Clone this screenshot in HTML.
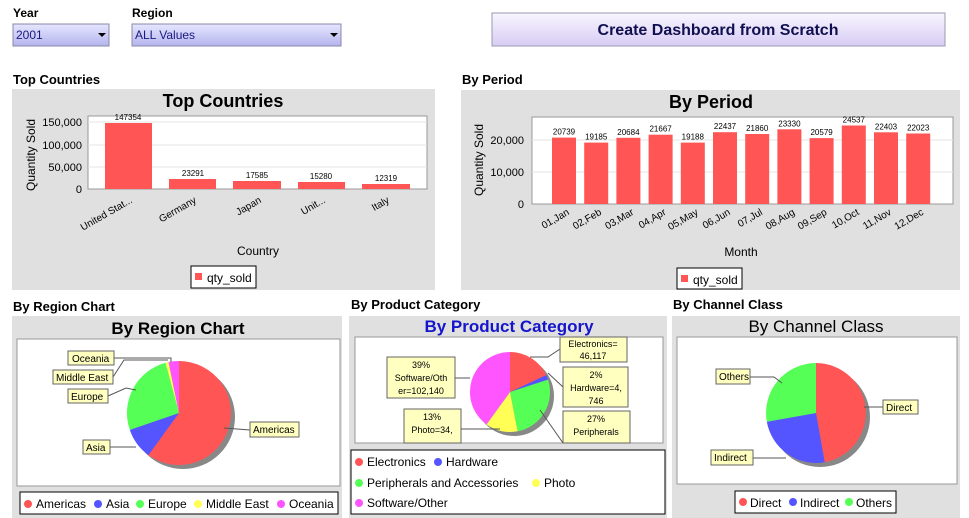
<!DOCTYPE html>
<html><head><meta charset="utf-8"><style>
body{margin:0;background:#fff;}
svg{display:block;font-family:"Liberation Sans",Arial,sans-serif;}
</style></head><body>
<svg width="969" height="518" viewBox="0 0 969 518" xmlns="http://www.w3.org/2000/svg">
<defs>
<linearGradient id="dd" x1="0" y1="0" x2="0" y2="1"><stop offset="0" stop-color="#e6e6ff"/><stop offset="1" stop-color="#b4b4ee"/></linearGradient>
<linearGradient id="bt" x1="0" y1="0" x2="0" y2="1"><stop offset="0" stop-color="#f8f6ff"/><stop offset="1" stop-color="#d8ccf4"/></linearGradient>
</defs>
<!-- top controls -->
<text x="13" y="17" font-size="12" font-weight="bold">Year</text>
<rect x="13" y="24" width="96" height="22" fill="url(#dd)" stroke="#8888aa"/>
<text x="16" y="39" font-size="12" fill="#1a1a80">2001</text>
<path d="M98 33 L106 33 L102 37 Z" fill="#000"/>
<text x="132" y="17" font-size="12" font-weight="bold">Region</text>
<rect x="132" y="24" width="209" height="22" fill="url(#dd)" stroke="#8888aa"/>
<text x="135" y="39" font-size="12" fill="#1a1a80">ALL Values</text>
<path d="M330 33 L338 33 L334 37 Z" fill="#000"/>
<rect x="492" y="13" width="453" height="33" fill="url(#bt)" stroke="#9a9ab0"/>
<text x="718" y="35" font-size="16" font-weight="bold" fill="#101050" text-anchor="middle">Create Dashboard from Scratch</text>

<!-- Top Countries -->
<text x="13" y="84" font-size="13" font-weight="bold">Top Countries</text>
<rect x="12" y="89" width="423" height="201" fill="#e0e0e0"/>
<text x="223" y="107" font-size="18" font-weight="bold" text-anchor="middle">Top Countries</text>
<rect x="88" y="116" width="339" height="73" fill="#fff" stroke="#999"/>
<g stroke="#e4e4e4"><line x1="88" y1="167" x2="427" y2="167"/><line x1="88" y1="145" x2="427" y2="145"/><line x1="88" y1="122" x2="427" y2="122"/></g>
<g font-size="11" text-anchor="end"><text x="82" y="193">0</text><text x="82" y="171">50,000</text><text x="82" y="149">100,000</text><text x="82" y="126">150,000</text></g>
<text transform="translate(35,155) rotate(-90)" font-size="12" text-anchor="middle">Quantity Sold</text>
<g fill="#ff5555"><rect x="105" y="123" width="47" height="66"/><rect x="169" y="179" width="47" height="10"/><rect x="233" y="181" width="48" height="8"/><rect x="298" y="182" width="47" height="7"/><rect x="362" y="184" width="48" height="5"/></g>
<g font-size="8" text-anchor="middle"><text x="128" y="120">147354</text><text x="193" y="176">23291</text><text x="257" y="178">17585</text><text x="321" y="179">15280</text><text x="386" y="181">12319</text></g>
<g font-size="10" text-anchor="end"><text transform="translate(133,202) rotate(-30)">United Stat...</text><text transform="translate(197,202) rotate(-30)">Germany</text><text transform="translate(262,202) rotate(-30)">Japan</text><text transform="translate(326,202) rotate(-30)">Unit...</text><text transform="translate(390,202) rotate(-30)">Italy</text></g>
<text x="258" y="255" font-size="12" text-anchor="middle">Country</text>
<rect x="191" y="266" width="65" height="22" fill="#fff" stroke="#000"/>
<rect x="195" y="273" width="7" height="7" fill="#ff5555"/>
<text x="207" y="282" font-size="12">qty_sold</text>

<!-- By Period -->
<text x="462" y="84" font-size="13" font-weight="bold">By Period</text>
<rect x="461" y="90" width="499" height="200" fill="#e0e0e0"/>
<text x="711" y="108" font-size="18" font-weight="bold" text-anchor="middle">By Period</text>
<rect x="532" y="117" width="421" height="87" fill="#fff" stroke="#999"/>
<g stroke="#e4e4e4"><line x1="532" y1="172" x2="953" y2="172"/><line x1="532" y1="140" x2="953" y2="140"/></g>
<g font-size="11" text-anchor="end"><text x="524" y="208">0</text><text x="524" y="176">10,000</text><text x="524" y="144">20,000</text></g>
<text transform="translate(483,160) rotate(-90)" font-size="12" text-anchor="middle">Quantity Sold</text>
<g fill="#ff5555">
<rect x="552" y="137.6" width="24" height="66.4"/><rect x="584.2" y="142.6" width="24" height="61.4"/><rect x="616.4" y="137.8" width="24" height="66.2"/><rect x="648.6" y="134.7" width="24" height="69.3"/><rect x="680.8" y="142.6" width="24" height="61.4"/><rect x="713" y="132.2" width="24" height="71.8"/><rect x="745.2" y="134" width="24" height="70"/><rect x="777.4" y="129.3" width="24" height="74.7"/><rect x="809.6" y="138.1" width="24" height="65.9"/><rect x="841.8" y="125.5" width="24" height="78.5"/><rect x="874" y="132.3" width="24" height="71.7"/><rect x="906.2" y="133.5" width="24" height="70.5"/></g>
<g font-size="8" text-anchor="middle"><text x="564" y="134.6">20739</text><text x="596.2" y="139.6">19185</text><text x="628.4" y="134.8">20684</text><text x="660.6" y="131.7">21667</text><text x="692.8" y="139.6">19188</text><text x="725" y="129.2">22437</text><text x="757.2" y="131">21860</text><text x="789.4" y="126.3">23330</text><text x="821.6" y="135.1">20579</text><text x="853.8" y="122.5">24537</text><text x="886" y="129.3">22403</text><text x="918.2" y="130.5">22023</text></g>
<g font-size="10" text-anchor="end">
<text transform="translate(570,214) rotate(-30)">01,Jan</text><text transform="translate(602.2,214) rotate(-30)">02,Feb</text><text transform="translate(634.4,214) rotate(-30)">03,Mar</text><text transform="translate(666.6,214) rotate(-30)">04,Apr</text><text transform="translate(698.8,214) rotate(-30)">05,May</text><text transform="translate(731,214) rotate(-30)">06,Jun</text><text transform="translate(763.2,214) rotate(-30)">07,Jul</text><text transform="translate(795.4,214) rotate(-30)">08,Aug</text><text transform="translate(827.6,214) rotate(-30)">09,Sep</text><text transform="translate(859.8,214) rotate(-30)">10,Oct</text><text transform="translate(892,214) rotate(-30)">11,Nov</text><text transform="translate(924.2,214) rotate(-30)">12,Dec</text></g>
<text x="741" y="256" font-size="12" text-anchor="middle">Month</text>
<rect x="677" y="268" width="65" height="21" fill="#fff" stroke="#000"/>
<rect x="681" y="275" width="7" height="7" fill="#ff5555"/>
<text x="693" y="284" font-size="12">qty_sold</text>

<!-- By Region -->
<text x="13" y="311" font-size="13" font-weight="bold">By Region Chart</text>
<rect x="12" y="316" width="330" height="202" fill="#e0e0e0"/>
<text x="178" y="334" font-size="17" font-weight="bold" text-anchor="middle">By Region Chart</text>
<rect x="17" y="339" width="323" height="147" fill="#fff" stroke="#999"/>
<circle cx="183" cy="417" r="52" fill="#888"/>
<path d="M179 413 L179 361 A52 52 0 1 1 148.4 455.1 Z" fill="#ff5555"/>
<path d="M179 413 L148.4 455.1 A52 52 0 0 1 129.8 429.9 Z" fill="#5555ff"/>
<path d="M179 413 L129.8 429.9 A52 52 0 0 1 165.5 362.8 Z" fill="#55ff55"/>
<path d="M179 413 L165.5 362.8 A52 52 0 0 1 168.5 362 Z" fill="#ffff55"/>
<path d="M179 413 L168.5 362 A52 52 0 0 1 179 361 Z" fill="#ff55ff"/>
<g stroke="#555" fill="none"><path d="M114 358 L124 358 L171 358 L171 362"/><path d="M113 377 L124 360 L168 360"/><path d="M108 396 L126 388 L136 390"/><path d="M110 447 L136 447"/><path d="M250 430 L224 428"/></g>
<g font-size="10" fill="#000"><rect x="68" y="351" width="46" height="14" fill="#ffffc0" stroke="#666"/><text x="72" y="362">Oceania</text>
<rect x="53" y="370" width="60" height="14" fill="#ffffc0" stroke="#666"/><text x="56" y="381">Middle East</text>
<rect x="68" y="389" width="40" height="14" fill="#ffffc0" stroke="#666"/><text x="71" y="400">Europe</text>
<rect x="83" y="440" width="27" height="14" fill="#ffffc0" stroke="#666"/><text x="86" y="451">Asia</text>
<rect x="250" y="422" width="49" height="15" fill="#ffffc0" stroke="#666"/><text x="253" y="433">Americas</text></g>
<rect x="20" y="492" width="318" height="22" fill="#fff" stroke="#000"/>
<g font-size="12"><circle cx="28" cy="504" r="4" fill="#ff5555"/><text x="36" y="508">Americas</text><circle cx="98" cy="504" r="4" fill="#5555ff"/><text x="106" y="508">Asia</text><circle cx="140" cy="504" r="4" fill="#55ff55"/><text x="148" y="508">Europe</text><circle cx="198" cy="504" r="4" fill="#ffff55"/><text x="206" y="508">Middle East</text><circle cx="281" cy="504" r="4" fill="#ff55ff"/><text x="289" y="508">Oceania</text></g>

<!-- By Product Category -->
<text x="351" y="309" font-size="13" font-weight="bold">By Product Category</text>
<rect x="349" y="316" width="318" height="202" fill="#e0e0e0"/>
<text x="509" y="332" font-size="17" font-weight="bold" fill="#1515cc" text-anchor="middle">By Product Category</text>
<rect x="355" y="337" width="308" height="106" fill="#fff" stroke="#999"/>
<circle cx="514" cy="396" r="40" fill="#888"/>
<path d="M510 392 L510 352 A40 40 0 0 1 546.3 375.1 Z" fill="#ff5555"/>
<path d="M510 392 L546.3 375.1 A40 40 0 0 1 548 379.6 Z" fill="#5555ff"/>
<path d="M510 392 L548 379.6 A40 40 0 0 1 517.6 431.3 Z" fill="#55ff55"/>
<path d="M510 392 L517.6 431.3 A40 40 0 0 1 486.5 424.4 Z" fill="#ffff55"/>
<path d="M510 392 L486.5 424.4 A40 40 0 0 1 510 352 Z" fill="#ff55ff"/>
<g stroke="#555" fill="none"><path d="M530 357 L548 357 L560 349"/><path d="M548 373 L563 387"/><path d="M540 410 L563 443"/><path d="M455 378 L470 378"/><path d="M461 429 L500 429"/></g>
<g font-size="9" text-anchor="middle">
<rect x="560" y="337" width="67" height="25" fill="#ffffc0" stroke="#666"/><text x="593" y="347">Electronics=</text><text x="593" y="359">46,117</text>
<rect x="563" y="367" width="65" height="40" fill="#ffffc0" stroke="#666"/><text x="596" y="378">2%</text><text x="596" y="391">Hardware=4,</text><text x="596" y="404">746</text>
<rect x="563" y="411" width="67" height="32" fill="#ffffc0" stroke="#666"/><text x="596" y="422">27%</text><text x="596" y="435">Peripherals</text>
<rect x="387" y="357" width="68" height="41" fill="#ffffc0" stroke="#666"/><text x="421" y="368">39%</text><text x="421" y="381">Software/Oth</text><text x="421" y="394">er=102,140</text>
<rect x="404" y="409" width="57" height="34" fill="#ffffc0" stroke="#666"/><text x="432" y="420">13%</text><text x="432" y="433">Photo=34,</text></g>
<rect x="351" y="450" width="314" height="64" fill="#fff" stroke="#000"/>
<g font-size="12"><circle cx="359" cy="462" r="4" fill="#ff5555"/><text x="367" y="466">Electronics</text><circle cx="438" cy="462" r="4" fill="#5555ff"/><text x="446" y="466">Hardware</text>
<circle cx="359" cy="483" r="4" fill="#55ff55"/><text x="367" y="487">Peripherals and Accessories</text><circle cx="536" cy="483" r="4" fill="#ffff55"/><text x="544" y="487">Photo</text>
<circle cx="359" cy="503" r="4" fill="#ff55ff"/><text x="367" y="507">Software/Other</text></g>

<!-- By Channel Class -->
<text x="673" y="309" font-size="13" font-weight="bold">By Channel Class</text>
<rect x="672" y="316" width="288" height="202" fill="#e0e0e0"/>
<text x="816" y="332" font-size="17" text-anchor="middle">By Channel Class</text>
<rect x="677" y="337" width="280" height="147" fill="#fff" stroke="#999"/>
<circle cx="820" cy="417" r="50" fill="#888"/>
<path d="M816 413 L816 363 A50 50 0 0 1 824.7 462.2 Z" fill="#ff5555"/>
<path d="M816 413 L824.7 462.2 A50 50 0 0 1 766.8 421.7 Z" fill="#5555ff"/>
<path d="M816 413 L766.8 421.7 A50 50 0 0 1 816 363 Z" fill="#55ff55"/>
<g stroke="#555" fill="none"><path d="M750 377 L774 377 L782 383"/><path d="M883 407 L864 407"/><path d="M753 458 L786 458"/></g>
<g font-size="10"><rect x="716" y="369" width="34" height="15" fill="#ffffc0" stroke="#666"/><text x="719" y="380">Others</text>
<rect x="883" y="400" width="35" height="14" fill="#ffffc0" stroke="#666"/><text x="886" y="411">Direct</text>
<rect x="711" y="450" width="42" height="15" fill="#ffffc0" stroke="#666"/><text x="714" y="461">Indirect</text></g>
<rect x="735" y="491" width="161" height="22" fill="#fff" stroke="#000"/>
<g font-size="12"><circle cx="743" cy="502" r="4" fill="#ff5555"/><text x="750" y="507">Direct</text><circle cx="793" cy="502" r="4" fill="#5555ff"/><text x="800" y="507">Indirect</text><circle cx="849" cy="502" r="4" fill="#55ff55"/><text x="856" y="507">Others</text></g>
</svg>
</body></html>
